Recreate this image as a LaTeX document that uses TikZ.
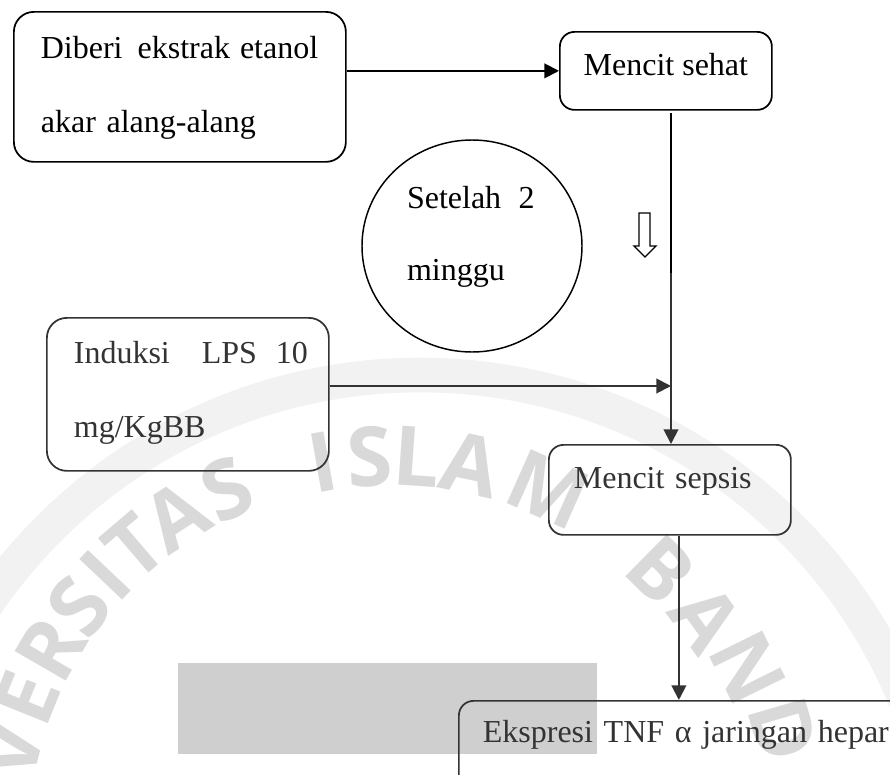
\documentclass[tikz,border=0pt]{standalone}
\usepackage{fontspec}
\setmainfont{Liberation Serif}
\newfontfamily\wmfont{Open Sans}
\usetikzlibrary{arrows.meta,shapes.geometric}
\colorlet{lowc}{black!80}
\colorlet{wmc}{black!15}
\tikzset{
  box/.style={draw, rounded corners=11pt, line width=1.3pt, inner ysep=0pt,
    anchor=north west, align=left, font=\fontsize{24}{55.5}\selectfont},
  arr/.style={-{Triangle[length=11pt,width=11pt]}, line width=1.5pt},
  wm/.style={font=\wmfont\bfseries\fontsize{62}{62}\selectfont, text=wmc, inner sep=0pt},
}
\begin{document}
\begin{tikzpicture}[x=0.75pt,y=-0.75pt]
\useasboundingbox (0,0) rectangle (890,775);
\clip (0,0) rectangle (890,775);
% watermark
\draw[black!5, line width=26pt] (420,900) circle[radius=525];
\node[wm, rotate=76] (w1) at (10,750) {V};
\node[wm, rotate=68] (w2) at (26.5,698) {E};
\node[wm, rotate=60] (w3) at (50.5,649) {R};
\node[wm, rotate=52.5] (w4) at (79,606) {S};
\node[wm, rotate=46.5] (w5) at (106,575) {I};
\node[wm, rotate=40.5] (w6) at (135,547) {T};
\node[wm, rotate=33] (w7) at (176.5,516) {A};
\node[wm, rotate=24.6] (w8) at (227,489) {S};
\node[wm, rotate=10] (w9) at (322.5,462) {I};
\node[wm, rotate=3] (w10) at (369.6,456.5) {S};
\node[wm, rotate=-4] (w11) at (417,457) {L};
\node[wm, rotate=-12] (w12) at (471,464.5) {A};
\node[wm, rotate=-24] (w13) at (548,489.6) {M};
\node[wm, rotate=-44.6] (w14) at (661,570) {B};
\node[wm, rotate=-54.3] (w15) at (706,618) {A};
\node[wm, rotate=-63.7] (w16) at (748,668) {N};
\node[wm, rotate=-73.7] (w17) at (783,730) {D};
\fill[black!19] (178,663) rectangle (597,754);
% boxes
\node[box, rounded corners=15pt, inner xsep=20.25pt, text width=208.5pt,
  text height=35.25pt, text depth=77.25pt] (b1) at (13,11)
  {\mbox{Diberi\hspace{11.25pt}ekstrak\hspace{7.5pt}etanol}\\akar alang-alang};
\node[box, inner xsep=0pt, minimum width=159pt,
  text height=33pt, text depth=25.5pt] (b2) at (559,31) {Mencit sehat};
\node[box, draw=lowc, text=lowc, rounded corners=15pt, inner xsep=20.25pt, text width=171pt,
  text height=34.5pt, text depth=80.25pt] (b3) at (46,317)
  {\mbox{Induksi\hspace{24pt}LPS\hspace{14.25pt}10}\\mg/KgBB};
\node[box, draw=lowc, text=lowc, inner xsep=18.75pt, text width=144pt,
  text height=33pt, text depth=34.5pt] (b4) at (548,444) {Mencit sepsis};
\node[box, draw=lowc, text=lowc, inner xsep=18pt, text width=301.5pt,
  text height=31.5pt, text depth=39.75pt] (b5) at (458,700) {\mbox{Ekspresi TNF α jaringan hepar}};
\node[ellipse, draw, line width=1.1pt, inner sep=0pt, minimum width=165pt, minimum height=159pt,
  text width=97.5pt, align=left, text height=16.5pt, text depth=73.5pt,
  font=\fontsize{24}{54}\selectfont] (c1) at (472,246)
  {\mbox{Setelah\hspace{13pt}2}\\minggu};
% hollow down arrow
\draw[line width=1pt, line join=miter] (639,213) -- (650,213) -- (650,246) -- (656,246)
  -- (645,257) -- (634,246) -- (639,246) -- cycle;
% connectors
\coordinate (v1) at (671,113);
\coordinate (vm) at (671,273);
\coordinate (j) at (671,386);
\draw[arr] (b1.east |- b2.west) -- (b2.west);
\draw[line width=1.5pt] (v1) -- (vm);
\draw[arr, lowc] (vm) -- (v1 |- b4.north);
\draw[arr, lowc] (b3.east |- j) -- (j);
\draw[arr, lowc] ([xshift=6.75pt]b4.south) -- ([xshift=6.75pt]b4.south |- b5.north);
\end{tikzpicture}
\end{document}
